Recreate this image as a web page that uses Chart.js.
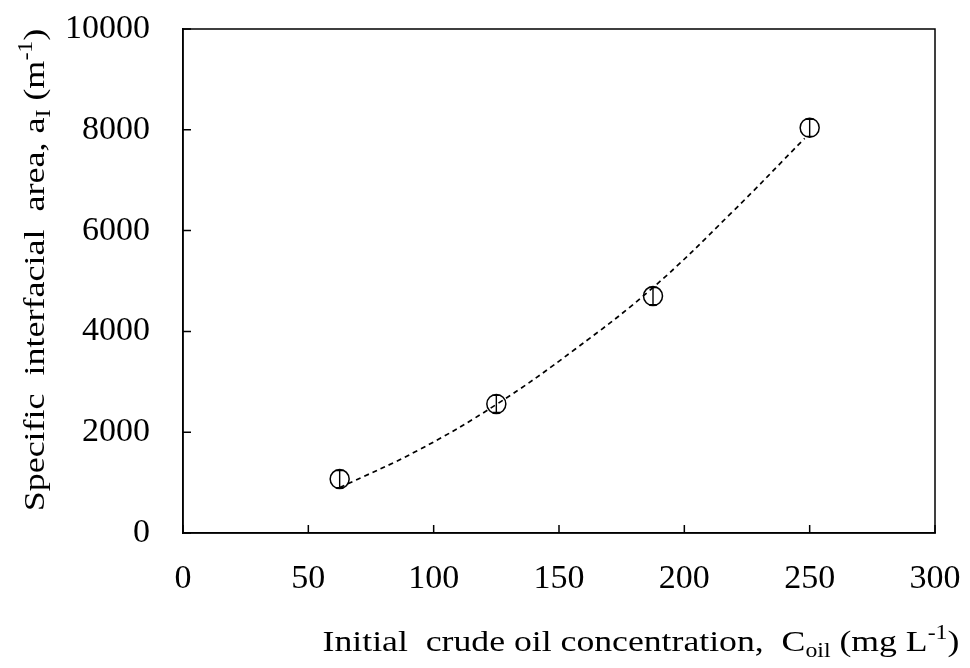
<!DOCTYPE html>
<html>
<head>
<meta charset="utf-8">
<script src="https://cdn.jsdelivr.net/npm/chart.js@4.4.1/dist/chart.umd.min.js"></script>
<style>
  body { margin: 0; background: #fff; }
  #wrap { width: 970px; height: 668px; }
</style>
</head>
<body>
<div id="wrap"><canvas id="c" width="970" height="668"></canvas></div>
<script>
// measured points (C_oil, a_I) and their error half-widths
const concs = [62.5, 125, 187.5, 250];
const areas = [1070, 2560, 4700, 8040];
const errs = [170, 170, 170, 170];
// dashed fitted curve
const fitX = [62.5, 93.75, 125, 156.25, 187.5, 218.75, 248];
const fitY = [900, 1640, 2550, 3640, 4870, 6350, 7830];
const xTicks = [0, 50, 100, 150, 200, 250, 300];
const yTicks = [0, 2000, 4000, 6000, 8000, 10000];

const serif = "'Liberation Serif', 'Times New Roman', serif";

function richText(ctx, parts, x, y, align) {
  // parts: [text, size, dy]
  let total = 0;
  parts.forEach(p => { ctx.font = p[1] + 'px ' + serif; total += ctx.measureText(p[0]).width; });
  let cx = align === 'center' ? x - total / 2 : x;
  parts.forEach(p => {
    ctx.font = p[1] + 'px ' + serif;
    ctx.fillText(p[0], cx, y + p[2]);
    cx += ctx.measureText(p[0]).width;
  });
}

const extras = {
  id: 'extras',
  afterDatasetsDraw(chart) {
    const ctx = chart.ctx, a = chart.chartArea;
    const xs = chart.scales.x, ys = chart.scales.y;
    ctx.save();
    ctx.strokeStyle = '#000';
    ctx.lineWidth = 1.5;
    ctx.strokeRect(a.left, a.top, a.right - a.left, a.bottom - a.top);
    // inward ticks
    ctx.beginPath();
    xTicks.forEach(v => { const p = xs.getPixelForValue(v); ctx.moveTo(p, a.bottom); ctx.lineTo(p, a.bottom - 8); });
    yTicks.forEach(v => { const p = ys.getPixelForValue(v); ctx.moveTo(a.left, p); ctx.lineTo(a.left + 8, p); });
    ctx.stroke();
    // error bars inside the markers
    ctx.lineWidth = 1.4;
    ctx.beginPath();
    concs.forEach((c, i) => {
      const px = xs.getPixelForValue(c);
      const t = ys.getPixelForValue(areas[i] + errs[i]);
      const b = ys.getPixelForValue(areas[i] - errs[i]);
      ctx.moveTo(px, t); ctx.lineTo(px, b);
      ctx.moveTo(px - 4, t); ctx.lineTo(px + 4, t);
      ctx.moveTo(px - 4, b); ctx.lineTo(px + 4, b);
    });
    ctx.stroke();
    // axis titles (stretched sideways like the source figure)
    ctx.fillStyle = '#000';
    ctx.textBaseline = 'alphabetic';
    ctx.save();
    ctx.translate(641, 651);
    ctx.scale(1.19, 1);
    richText(ctx, [['Initial  crude oil concentration,  C', 30, 0], ['oil', 20, 6], [' (mg L', 30, 0], ['-1', 20, -12], [')', 30, 0]], 0, 0, 'center');
    ctx.restore();
    ctx.translate(44, 270);
    ctx.rotate(-Math.PI / 2);
    ctx.scale(1.2, 1);
    richText(ctx, [['Specific  interfacial  area, a', 30, 0], ['I', 20, 6], [' (m', 30, 0], ['-1', 20, -12], [')', 30, 0]], 0, 0, 'center');
    ctx.restore();
  }
};

new Chart(document.getElementById('c'), {
  type: 'scatter',
  data: {
    datasets: [{
      data: concs.map((c, i) => ({ x: c, y: areas[i] })),
      pointStyle: 'circle',
      pointRadius: 9.5,
      borderColor: '#000',
      borderWidth: 1.5,
      backgroundColor: 'rgba(0,0,0,0)',
      order: 1
    }, {
      type: 'line',
      data: fitX.map((c, i) => ({ x: c, y: fitY[i] })),
      borderColor: '#000',
      borderWidth: 1.7,
      borderDash: [5, 4],
      pointRadius: 0,
      tension: 0.4,
      fill: false,
      order: 2
    }]
  },
  options: {
    responsive: false,
    animation: false,
    layout: { autoPadding: false, padding: { left: 0, right: 35, top: 29, bottom: 0 } },
    plugins: { legend: { display: false }, tooltip: { enabled: false } },
    scales: {
      x: {
        type: 'linear', min: 0, max: 300,
        afterBuildTicks: s => { s.ticks = xTicks.map(v => ({ value: v })); },
        afterFit: s => { s.height = 135; s.paddingLeft = 0; s.paddingRight = 0; },
        grid: { display: false, drawTicks: false },
        border: { display: true, color: '#000', width: 1.5 },
        ticks: { color: '#000', padding: 26, font: { family: serif, size: 34 }, callback: v => String(v) }
      },
      y: {
        type: 'linear', min: 0, max: 10000,
        afterBuildTicks: s => { s.ticks = yTicks.map(v => ({ value: v })); },
        afterFit: s => { s.width = 183; s.paddingTop = 0; s.paddingBottom = 0; },
        grid: { display: false, drawTicks: false },
        border: { display: true, color: '#000', width: 1.5 },
        ticks: { color: '#000', padding: 33, font: { family: serif, size: 34 }, callback: v => String(v) }
      }
    }
  },
  plugins: [extras]
});
</script>
</body>
</html>
